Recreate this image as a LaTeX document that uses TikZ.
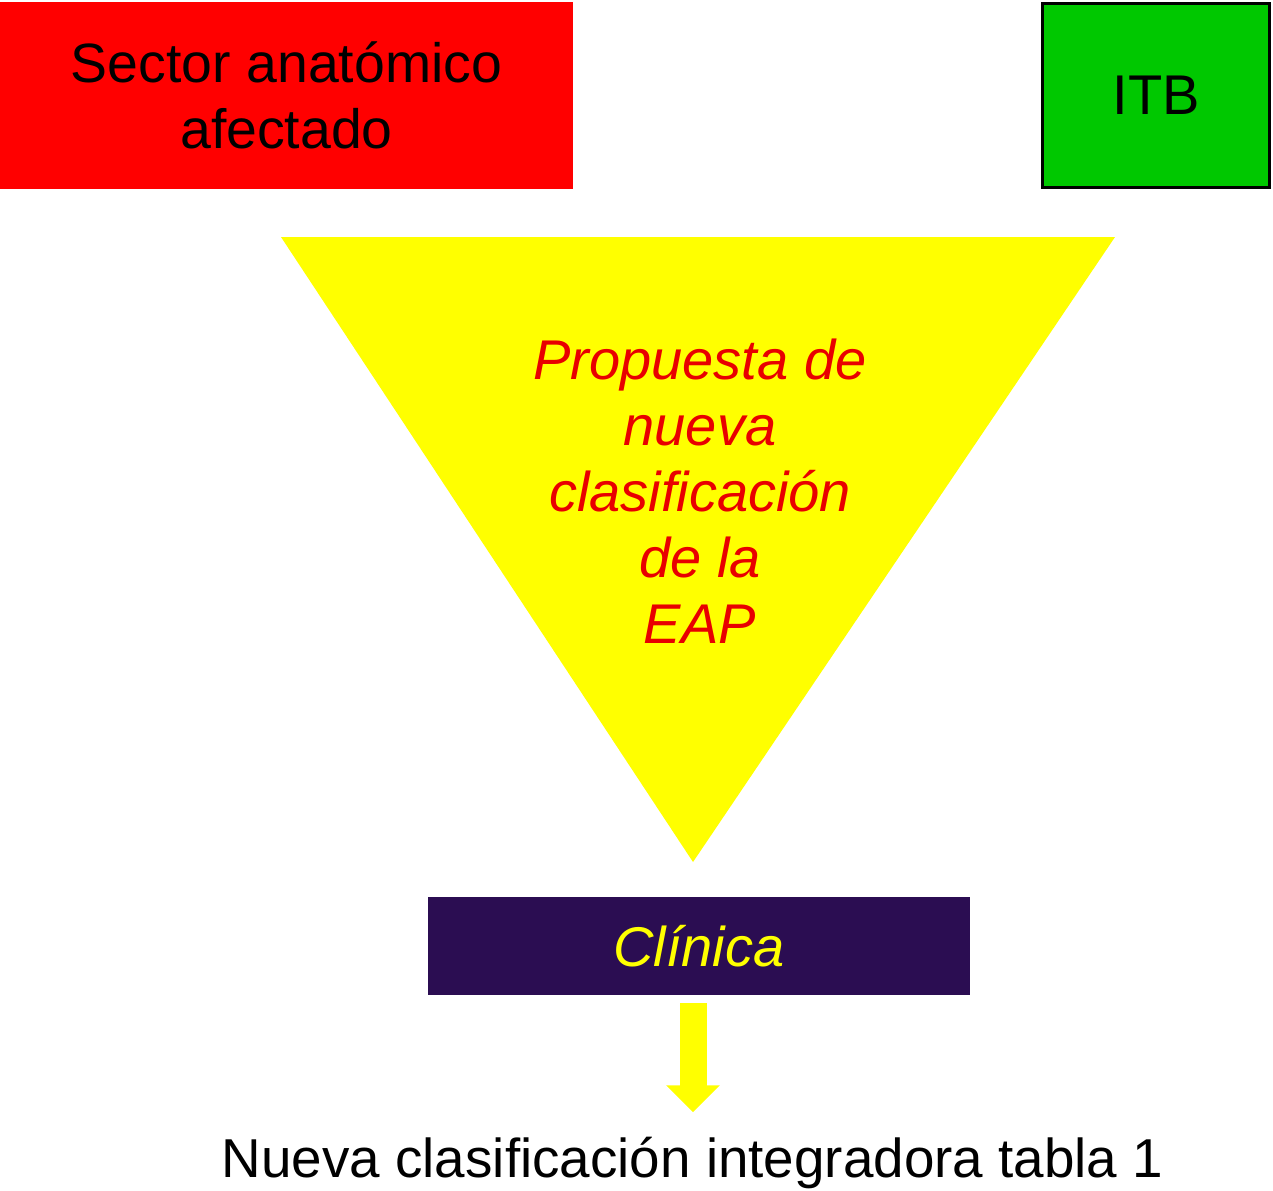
\documentclass[tikz,border=0pt]{standalone}
\usepackage{fontspec}
\setmainfont{Liberation Sans}
\usetikzlibrary{arrows.meta}
\definecolor{boxred}{RGB}{255,0,0}
\definecolor{boxgreen}{RGB}{0,200,0}
\definecolor{triyellow}{RGB}{255,255,0}
\definecolor{clinpurple}{RGB}{43,13,82}
\definecolor{textred}{RGB}{232,0,0}
\begin{document}
\begin{tikzpicture}[x=0.5pt,y=-0.5pt,
  bigtext/.style={font=\fontsize{28}{33}\selectfont, inner sep=0pt, align=center},
  redbox/.style={bigtext, font=\fontsize{27.7}{33}\selectfont, fill=boxred, minimum width=286.5pt, minimum height=93.5pt},
  greenbox/.style={bigtext, fill=boxgreen, draw=black, line width=1.5pt, minimum width=113.5pt, minimum height=92pt},
  clinbox/.style={bigtext, fill=clinpurple, text=triyellow, font=\fontsize{28}{33}\selectfont\itshape, minimum width=271pt, minimum height=49pt},
  tritext/.style={bigtext, text=textred, font=\fontsize{28}{33}\selectfont\itshape},
  blockarrow/.style={draw=triyellow, line width=13.5pt, -{Triangle[width=26pt,length=13.5pt,fill=triyellow]}}
]
\useasboundingbox (0,0) rectangle (1273,1190);
\fill[white] (0,0) rectangle (1273,1190);

\node[redbox] (sector) at (286.5,95.5) {Sector anatómico\\afectado};
\node[greenbox] (itb) at (1156,95.5) {ITB};

\coordinate (tl) at (281,237);
\coordinate (tr) at (1115,237);
\coordinate (tb) at (693,862);
\fill[triyellow] (tl) -- (tr) -- (tb) -- cycle;
\node[tritext] (prop) at (700,491.5) {Propuesta de\\nueva\\clasificación\\de la\\EAP};

\node[clinbox] (clinica) at (699,946) {Clínica};
\node[bigtext, font=\fontsize{27.4}{33}\selectfont, anchor=base] (nueva) at (692.5,1177) {Nueva clasificación integradora tabla 1};

\draw[blockarrow, shorten <=4pt, shorten >=12pt] (clinica.south -| tb) -- (nueva.north -| tb);
\end{tikzpicture}
\end{document}
